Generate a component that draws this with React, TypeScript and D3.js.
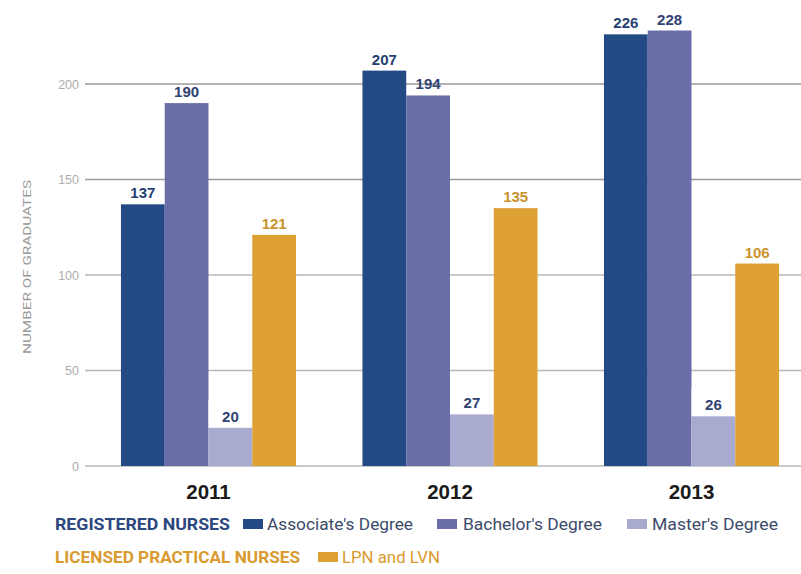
import React from "react";
import * as d3 from "d3";

const years = ["2011", "2012", "2013"];
const seriesNames = ["Associate's Degree", "Bachelor's Degree", "Master's Degree", "LPN and LVN"];
const associate = [137, 207, 226];
const bachelor = [190, 194, 228];
const master = [20, 27, 26];
const lpn = [121, 135, 106];
const yTicks = [0, 50, 100, 150, 200];

const W = 801;
const H = 574;
const barColors = ["#244a86", "#6b6da8", "#a8aad0", "#dfa034"];
const labelColors = ["#253f72", "#2f4372", "#2f4372", "#c9922c"];
const NARROW = "Roboto, 'Liberation Sans', sans-serif";
const SANS = "'Liberation Sans', Arial, sans-serif";

export default function App() {
  const values = [associate, bachelor, master, lpn];
  const y = d3.scaleLinear().domain([0, 200]).range([466, 84]);
  const x0 = d3.scaleBand().domain(years).range([87.75, 812.25]).paddingInner(0.275).paddingOuter(0.1375);
  const x1 = d3.scaleBand().domain(seriesNames).range([0, x0.bandwidth()]).padding(0);

  const legendRow1 = [
    { sx: 243, tx: 267, len: 146 },
    { sx: 437, tx: 463, len: 139 },
    { sx: 627, tx: 652, len: 126 },
  ];

  return (
    <svg width={W} height={H} style={{ position: "absolute", left: 0, top: 0, background: "#fff" }}>
      <rect x={0} y={0} width={W} height={H} fill="#fff" />
      {yTicks.map((t) => (
        <g key={t}>
          <line x1={85} x2={W} y1={y(t)} y2={y(t)} stroke={t >= 150 ? "#9a9a9a" : "#b8b8b8"} strokeWidth={t >= 150 ? 1.6 : 1.3} />
          <text x={79} y={y(t) + 4.5} textAnchor="end" fontFamily={SANS} fontSize={12.5} fill="#adadad">
            {t}
          </text>
        </g>
      ))}
      <text
        transform={`translate(31,${(y(0) + y(200)) / 2 - 8}) rotate(-90)`}
        textAnchor="middle"
        fontFamily={NARROW}
        fontSize={11}
        fill="#999"
        textLength={174}
        lengthAdjust="spacingAndGlyphs"
      >
        NUMBER OF GRADUATES
      </text>
      {years.map((yr, gi) => (
        <g key={yr} transform={`translate(${x0(yr)},0)`}>
          {seriesNames.map((s, si) => {
            const v = values[si][gi];
            const bx = x1(s)!;
            return (
              <g key={s}>
                {si === 2 && (
                  <rect x={bx} y={y(v) - 28} width={x1.bandwidth()} height={28} fill="#fff" />
                )}
                <rect x={bx} y={y(v)} width={x1.bandwidth()} height={y(0) - y(v)} fill={barColors[si]} />
                <text
                  x={bx + x1.bandwidth() / 2}
                  y={y(v) - 6}
                  textAnchor="middle"
                  fontFamily={SANS}
                  fontWeight="bold"
                  fontSize={15}
                  fill={labelColors[si]}
                >
                  {v}
                </text>
              </g>
            );
          })}
          <text
            x={x0.bandwidth() / 2}
            y={499}
            textAnchor="middle"
            fontFamily={SANS}
            fontWeight="bold"
            fontSize={20.5}
            fill="#1a1a1a"
          >
            {yr}
          </text>
        </g>
      ))}
      <g fontFamily={NARROW} fontSize={17}>
        <text x={55} y={530} fontWeight="bold" fill="#2b477d" textLength={175} lengthAdjust="spacingAndGlyphs">
          REGISTERED NURSES
        </text>
        {legendRow1.map((l, i) => (
          <g key={i}>
            <rect x={l.sx} y={519} width={20} height={10} fill={barColors[i]} />
            <text x={l.tx} y={530} fill="#3b4b6b" textLength={l.len} lengthAdjust="spacingAndGlyphs">
              {seriesNames[i]}
            </text>
          </g>
        ))}
        <text x={55} y={563} fontWeight="bold" fill="#d99a2e" textLength={245} lengthAdjust="spacingAndGlyphs">
          LICENSED PRACTICAL NURSES
        </text>
        <rect x={318} y={552} width={20} height={10} fill={barColors[3]} />
        <text x={342} y={563} fill="#d99a2e" textLength={98} lengthAdjust="spacingAndGlyphs">
          {seriesNames[3]}
        </text>
      </g>
    </svg>
  );
}
